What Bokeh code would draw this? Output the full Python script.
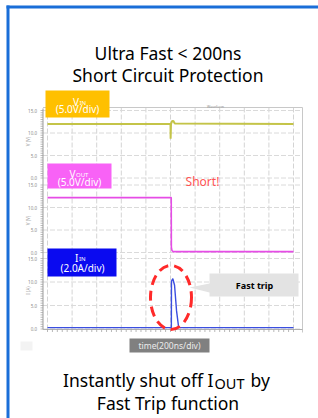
import numpy as np
from bokeh.plotting import figure
from bokeh.models import Range1d
from bokeh.core.properties import value
from bokeh.embed import file_html
from bokeh.resources import INLINE

# ---------------- data ----------------
vin_time_ns = [0, 1000, 1001, 1004, 1012, 1022, 1035, 2000]
vin_volts = [12.0, 12.0, 8.7, 12.0, 12.6, 12.7, 12.1, 12.0]

vout_time_ns = [0, 1006, 1007, 1012, 1022, 2000]
vout_volts = [12.2, 12.2, 1.2, 0.4, 0.2, 0.2]

iin_time_ns = [0, 1007, 1008, 1019, 1033, 1049, 1065, 1075, 2000]
iin_amps = [0.3, 0.3, 10.2, 10.7, 9.3, 3.9, 0.6, 0.3, 0.3]

time_grid_ns = [0, 200, 400, 600, 800, 1000, 1200, 1400, 1600, 1800, 2000]
y_tick_values = [0, 5, 10, 15]
y_tick_labels = ["0.0", "5.0", "10.0", "15.0"]

title_lines = ["Ultra Fast < 200ns", "Short Circuit Protection"]
caption_line2 = "Fast Trip function"

# ---------------- layout (image pixel coordinates) ----------------
W, H = 318, 418
X_LO, X_HI = 0, W
Y_TOP, Y_BOT = 0, H
T0_PX, T1_PX = 47.0, 293.0          # pixel of t=0 and t=2000 ns
T_SPAN = 2000.0
PX_PER_NS = (T1_PX - T0_PX) / T_SPAN
# panel: (pixel of zero, pixels per unit)
panels = {
    "vin": (177.5, (177.5 - 110.0) / 15.0),
    "vout": (252.0, (252.0 - 184.5) / 15.0),
    "iin": (328.5, (328.5 - 258.0) / 15.0),
}
FR_L, FR_R, FR_T, FR_B = 42.5, 302.0, 107.0, 329.0

FONT = value("Noto Sans")
FONT2 = value("Noto Sans")

p = figure(width=W, height=H, x_range=Range1d(X_LO, X_HI), y_range=Range1d(Y_BOT, Y_TOP),
           output_backend="svg", toolbar_location=None, min_border=0, title_location=None,
           x_axis_location=None, y_axis_location=None, outline_line_color=None,
           background_fill_color="white", border_fill_color="white")
p.xgrid.visible = False
p.ygrid.visible = False

p.extra_x_ranges = {"t": Range1d(-(T0_PX - X_LO) / PX_PER_NS, T_SPAN + (X_HI - T1_PX) / PX_PER_NS)}
p.extra_y_ranges = {name: Range1d((z - Y_BOT) / k, (z - Y_TOP) / k) for name, (z, k) in panels.items()}


def txt(x, y, s, size, color="black", align="center", baseline="alphabetic", font=FONT,
        style="normal", angle=0, **kw):
    p.text(x=[x], y=[y], text=[s], text_font=font, text_font_size=value(f"{size}px"),
           text_color=color, text_align=align, text_baseline=baseline,
           text_font_style=style, angle=angle, **kw)


# blue card border (left and top)
p.segment(x0=[7.5, 6], y0=[5, 6.5], x1=[7.5, X_HI], y1=[Y_BOT, 6.5], line_color="#1a6ed8", line_width=3)

# titles
txt(167.5, 52, title_lines[0], 17.5)
txt(167.5, 74, title_lines[1], 17.5)

# ---------------- scope frame ----------------
n = len(time_grid_ns)
p.segment(x0=time_grid_ns, y0=[FR_T] * n, x1=time_grid_ns, y1=[FR_B] * n, x_range_name="t",
          line_color="#d4d4d4", line_dash="5 2", line_width=1)
for name in panels:
    m = len(y_tick_values)
    p.segment(x0=[FR_L] * m, y0=y_tick_values, x1=[FR_R] * m, y1=y_tick_values, y_range_name=name,
              line_color="#dadada", line_dash="5 2", line_width=1)
    minor = list(np.arange(0, 15.01, 0.5))
    p.segment(x0=[40.0] * len(minor), y0=minor, x1=[FR_L] * len(minor), y1=minor, y_range_name=name,
              line_color="#a0a0a0", line_width=0.7)
    p.text(x=[36.5] * m, y=y_tick_values, text=y_tick_labels, y_range_name=name, text_font=FONT2,
           text_font_size=value("4.5px"), text_color="#8a8a8a", text_align="right", text_baseline="middle")

p.line(x=[FR_L, FR_R, FR_R], y=[FR_T, FR_T, 332], line_color="#c8c8c8", line_width=1)
p.line(x=[FR_L, FR_L], y=[108, FR_B], line_color="#9a9a9a", line_width=1)
p.line(x=[FR_L, FR_R], y=[FR_B, FR_B], line_color="#b0b0b0", line_width=1)
bt = list(np.arange(0, 2001, 40))
p.segment(x0=bt, y0=[FR_B] * len(bt), x1=bt, y1=[331.5] * len(bt), x_range_name="t",
          line_color="#9a9a9a", line_width=0.7)

txt(27, 141, "V (V)", 4.5, color="#9a9a9a", font=FONT2, angle=np.pi / 2, baseline="middle")
txt(27, 220, "V (V)", 4.5, color="#9a9a9a", font=FONT2, angle=np.pi / 2, baseline="middle")
txt(27, 290, "I (A)", 4.5, color="#9a9a9a", font=FONT2, angle=np.pi / 2, baseline="middle")
txt(215, 105.5, "Waveform", 3.5, color="#999999", font=FONT2, baseline="middle")

# ---------------- traces ----------------
p.line(vout_time_ns, vout_volts, x_range_name="t", y_range_name="vout", line_color="#e64ce6", line_width=1.6)
p.line(iin_time_ns, iin_amps, x_range_name="t", y_range_name="iin", line_color="#3a4ee0", line_width=1.4)
p.line(vin_time_ns, vin_volts, x_range_name="t", y_range_name="vin", line_color="#c4c448", line_width=2)

# ---------------- channel label boxes ----------------
p.quad(left=[45, 47, 47], right=[109, 111, 116], top=[90, 163, 248], bottom=[117, 188, 276],
       fill_color=["#ffc000", "#f862f6", "#0a0af0"], line_color=None)
# V_IN
txt(78.5, 101.5, "V", 10, color="white", align="right", font=FONT2)
txt(79, 102.5, "IN", 6, color="white", align="left", font=FONT2)
txt(77, 108.5, "(5.0V/div)", 10, color="white", font=FONT2, baseline="middle")
# V_OUT
txt(75, 173.5, "V", 10, color="white", align="right", font=FONT2)
txt(75.5, 174.5, "OUT", 6, color="white", align="left", font=FONT2)
txt(79, 181, "(5.0V/div)", 10, color="white", font=FONT2, baseline="middle")
# I_IN
txt(78, 257, "I", 10, color="white", align="right", font=FONT2)
txt(78.5, 258, "IN", 6, color="white", align="left", font=FONT2)
txt(82, 267.5, "(2.0A/div)", 10, color="white", font=FONT2, baseline="middle")

# annotations
txt(202, 181, "Short!", 12, color="#ff5555", baseline="middle")
p.ellipse(x=[170.5], y=[297], width=[41], height=[64], fill_color=None,
          line_color="#ff2a2a", line_width=3, line_dash="10 6")
p.patch(x=[209, 298, 298, 209, 209, 189, 209], y=[273, 273, 296, 296, 292, 287, 283],
        fill_color="#e3e3e3", line_color=None)
txt(254, 284.5, "Fast trip", 9, style="bold", font=FONT2, baseline="middle")

# time box
p.quad(left=[129], right=[209], top=[338], bottom=[352], fill_color="#808080", line_color=None)
txt(169, 344.5, "time(200ns/div)", 8.5, color="#ececec", font=FONT2, baseline="middle")
p.quad(left=[20], right=[32], top=[341], bottom=[350], fill_color="#f3f3f3", line_color=None)

# caption
txt(213, 379, "Instantly shut off I", 17.5, align="right")
txt(214, 382, "OUT", 14.5, align="left")
txt(250, 379, "by", 17.5, align="left")
txt(167.5, 402, caption_line2, 17.5)

open("out.html", "w").write(file_html(p, INLINE))
